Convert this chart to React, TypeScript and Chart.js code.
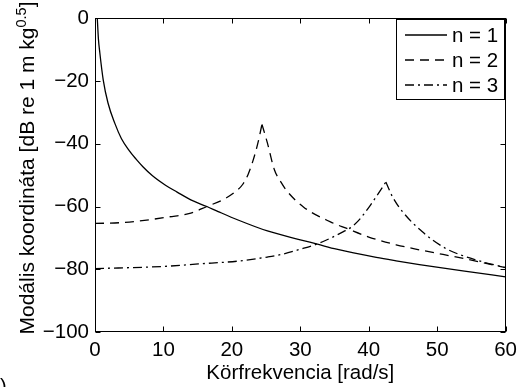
import React, { useEffect, useRef } from 'react';
import { Chart, registerables } from 'chart.js';

Chart.register(...registerables);

// ---- data ----
const xTicks = [0, 10, 20, 30, 40, 50, 60];
const yTicks = [0, -20, -40, -60, -80, -100];
const seriesLabels = ['n = 1', 'n = 2', 'n = 3'];
const xTitle = 'Körfrekvencia [rad/s]';
const yTitleMain = 'Modális koordináta [dB re 1 m kg';
const yTitleSup = '0.5';
const yTitleEnd = ']';
const cornerText = ')';

const n1X = [0.3, 0.5, 0.7, 1.2, 1.9, 2.9, 3.85, 5, 6, 7, 8.4, 10.3, 12, 14, 16.35, 18, 20.9, 25.2, 30, 32.5, 35.3, 41.1, 44, 47.4, 54, 60];
const n1Y = [1.5, -6.6, -10.9, -19.6, -27, -33.5, -38.3, -42.2, -44.9, -47.3, -50.2, -53.2, -55.4, -57.9, -60, -61.6, -64.3, -67.8, -70.6, -72, -73.6, -76.2, -77.3, -78.5, -80.6, -82.4];

const n2X = [0, 4.1, 8, 10.8, 13.7, 16.35, 18.9, 20.5, 21.6, 22.4, 23.1, 23.8, 24.4, 25.2, 26.2, 27.2, 28.1, 30.5, 34.4, 36.8, 40.1, 44, 47.4, 54.6, 60];
const n2Y = [-65.4, -65.1, -64.2, -63.3, -62.3, -60, -57.6, -55.3, -52.9, -49.6, -45.3, -39.8, -33.8, -39.8, -48.2, -52.3, -55.2, -60.2, -64.9, -67, -69.8, -72.2, -73.8, -76.9, -79.5];

const n3X = [0, 10, 15.1, 20.9, 25.2, 27.2, 30, 32.5, 34.5, 36.3, 37.3, 38.5, 40.1, 41.2, 42.5, 43.5, 45, 47.8, 51.2, 55.5, 60];
const n3Y = [-79.8, -79.1, -78.3, -77.4, -76.1, -75.3, -73.6, -71.9, -70, -68, -66.8, -64.5, -60, -56.5, -52.2, -57, -61.8, -68, -73.3, -76.9, -79.5];

const FONT = "'Liberation Sans', Arial, Helvetica, sans-serif";
const dashStyles: number[][] = [[], [9, 6], [9, 4, 2, 4]];

function toPoints(xs: number[], ys: number[]) {
  return xs.map((x, i) => ({ x, y: ys[i] }));
}

// split a series at its peak so the resonance stays a sharp cusp
function splitAtPeak(xs: number[], ys: number[]) {
  let k = 0;
  ys.forEach((v, i) => { if (v > ys[k]) k = i; });
  const pts = toPoints(xs, ys);
  if (k === 0 || k === ys.length - 1) return [pts];
  return [pts.slice(0, k + 1), pts.slice(k)];
}

export default function App() {
  const ref = useRef<HTMLCanvasElement | null>(null);

  useEffect(() => {
    if (!ref.current) return;
    const series = [
      { xs: n1X, ys: n1Y, dash: dashStyles[0] },
      { xs: n2X, ys: n2Y, dash: dashStyles[1] },
      { xs: n3X, ys: n3Y, dash: dashStyles[2] },
    ];
    const datasets: any[] = [];
    series.forEach((s, si) => {
      splitAtPeak(s.xs, s.ys).forEach((pts) => {
        datasets.push({
          label: seriesLabels[si],
          data: pts,
          borderColor: '#000',
          borderWidth: 1.3,
          borderDash: s.dash,
          pointRadius: 0,
          fill: false,
          cubicInterpolationMode: 'monotone',
        });
      });
    });

    const frame = {
      id: 'frame',
      afterDraw(chart: any) {
        const { ctx, chartArea: a, scales } = chart;
        const xs = scales.x, ys = scales.y;
        ctx.save();
        ctx.strokeStyle = '#000';
        ctx.lineWidth = 1;
        ctx.setLineDash([]);
        const L = Math.round(a.left) + 0.5, R = Math.round(a.right) - 0.5;
        const T = Math.round(a.top) + 0.5, B = Math.round(a.bottom) - 0.5;
        ctx.strokeRect(L, T, R - L, B - T);
        const tl = 5;
        ctx.beginPath();
        xTicks.forEach((v) => {
          const p = Math.round(xs.getPixelForValue(v)) + 0.5;
          ctx.moveTo(p, B); ctx.lineTo(p, B - tl);
          ctx.moveTo(p, T); ctx.lineTo(p, T + tl);
        });
        yTicks.forEach((v) => {
          const p = Math.round(ys.getPixelForValue(v)) + 0.5;
          ctx.moveTo(L, p); ctx.lineTo(L + tl, p);
          ctx.moveTo(R, p); ctx.lineTo(R - tl, p);
        });
        ctx.stroke();

        // legend
        const bx = 396.5, by = 19.5, bw = 108, bh = 80;
        ctx.fillStyle = '#fff';
        ctx.fillRect(bx, by, bw, bh);
        ctx.strokeRect(bx, by, bw, bh);
        const rows = [35, 60, 85];
        ctx.font = `20.5px ${FONT}`;
        ctx.textBaseline = 'alphabetic';
        ctx.textAlign = 'left';
        rows.forEach((ry, i) => {
          ctx.lineWidth = 1.3;
          ctx.setLineDash(dashStyles[i]);
          ctx.beginPath();
          ctx.moveTo(405, ry);
          ctx.lineTo(447, ry);
          ctx.stroke();
          ctx.setLineDash([]);
          ctx.fillStyle = '#000';
          ctx.fillText(seriesLabels[i], 452, ry + 7);
        });

        // x title
        ctx.fillStyle = '#000';
        ctx.font = `20.5px ${FONT}`;
        ctx.textAlign = 'center';
        ctx.fillText(xTitle, (a.left + a.right) / 2, 379);

        // y title with superscript
        const mainFont = `21px ${FONT}`;
        const supFont = `14.5px ${FONT}`;
        ctx.font = mainFont;
        const w1 = ctx.measureText(yTitleMain).width;
        const w3 = ctx.measureText(yTitleEnd).width;
        ctx.font = supFont;
        const w2 = ctx.measureText(yTitleSup).width;
        const total = w1 + w2 + w3;
        const cy = 168;
        ctx.save();
        ctx.translate(34, cy);
        ctx.rotate(-Math.PI / 2);
        ctx.textAlign = 'left';
        let x0 = -total / 2;
        ctx.font = mainFont;
        ctx.fillText(yTitleMain, x0, 0);
        x0 += w1;
        ctx.font = supFont;
        ctx.fillText(yTitleSup, x0, -8.5);
        x0 += w2;
        ctx.font = mainFont;
        ctx.fillText(yTitleEnd, x0, 0);
        ctx.restore();

        // clipped panel mark at bottom-left
        ctx.font = `20px ${FONT}`;
        ctx.textAlign = 'left';
        ctx.fillText(cornerText, 0, 393);
        ctx.restore();
      },
    };

    const chart = new Chart(ref.current, {
      type: 'line',
      data: { datasets },
      options: {
        animation: false,
        responsive: false,
        devicePixelRatio: 1,
        layout: { padding: { top: 13, right: 12, left: 0, bottom: 0 } },
        plugins: { legend: { display: false }, tooltip: { enabled: false } },
        scales: {
          x: {
            type: 'linear',
            min: 0,
            max: 60,
            afterFit: (s: any) => { s.height = 55; },
            afterBuildTicks: (s: any) => { s.ticks = xTicks.map((v) => ({ value: v })); },
            grid: { display: false, drawTicks: false },
            border: { display: false },
            ticks: { color: '#000', padding: 6, font: { family: FONT, size: 20.5 }, maxRotation: 0 },
          },
          y: {
            type: 'linear',
            min: -100,
            max: 0,
            afterFit: (s: any) => { s.width = 95; },
            afterBuildTicks: (s: any) => { s.ticks = yTicks.map((v) => ({ value: v })); },
            grid: { display: false, drawTicks: false },
            border: { display: false },
            ticks: {
              color: '#000',
              padding: 6,
              font: { family: FONT, size: 20.5 },
              callback: (v: any) => String(v).replace('-', '\u2212'),
            },
          },
        },
      },
      plugins: [frame],
    });
    return () => chart.destroy();
  }, []);

  return (
    <div style={{ position: 'fixed', left: 0, top: 0, width: 523, height: 387, background: '#fff' }}>
      <canvas ref={ref} width={523} height={387} style={{ width: 523, height: 387, display: 'block' }} />
    </div>
  );
}
